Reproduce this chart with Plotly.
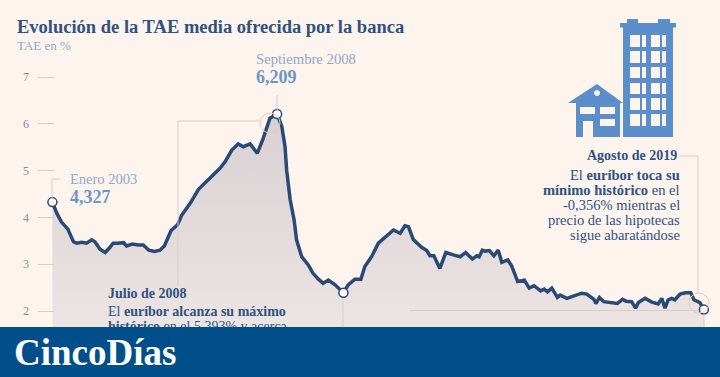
import plotly.graph_objects as go

# Data
years = [2003.01,2003.12,2003.24,2003.40,2003.54,2003.62,2003.75,2003.87,2004.00,2004.08,2004.21,2004.34,2004.44,2004.54,2004.65,2004.80,2004.88,
2005.02,2005.17,2005.30,2005.44,2005.58,2005.72,2005.83,2006.00,2006.16,2006.27,2006.48,2006.69,2006.85,2007.02,2007.23,2007.36,2007.53,2007.69,2007.82,2007.99,
2008.17,2008.32,2008.49,2008.67,2008.79,2008.87,2008.91,2009.00,2009.10,2009.16,2009.29,2009.46,2009.57,2009.71,2009.83,2009.96,2010.13,2010.34,2010.46,2010.63,2010.78,2010.88,
2011.05,2011.22,2011.47,2011.60,2011.77,2011.89,2011.98,2012.10,2012.31,2012.44,2012.52,2012.62,2012.77,2012.92,2013.11,2013.28,2013.42,2013.59,2013.70,2013.76,2013.84,2013.91,
2014.02,2014.13,2014.24,2014.33,2014.48,2014.58,2014.73,2014.90,2015.02,2015.14,2015.31,2015.40,2015.48,2015.59,2015.73,2015.80,2015.97,2016.13,2016.34,2016.47,2016.65,2016.70,2016.79,2016.90,
2017.06,2017.24,2017.37,2017.46,2017.60,2017.70,2017.77,2017.94,2018.11,2018.27,2018.36,2018.44,2018.52,2018.61,2018.69,2018.82,2018.95,2019.09,2019.17,2019.32,2019.42]
tae = [4.327,4.09,3.90,3.75,3.48,3.45,3.47,3.45,3.52,3.48,3.32,3.25,3.34,3.45,3.45,3.46,3.39,
3.43,3.41,3.41,3.30,3.27,3.30,3.39,3.72,3.84,4.05,4.30,4.60,4.73,4.88,5.05,5.19,5.44,5.57,5.51,5.57,
5.37,5.69,6.12,6.209,5.94,5.51,5.01,4.37,3.94,3.52,3.16,2.98,2.81,2.68,2.59,2.66,2.56,2.39,2.56,2.68,2.68,2.95,
3.16,3.45,3.65,3.73,3.66,3.82,3.80,3.53,3.36,3.29,3.18,3.18,2.91,3.25,3.20,3.16,3.25,3.11,3.18,3.16,3.30,3.28,
3.29,3.18,3.30,3.04,3.09,2.96,2.63,2.66,2.49,2.54,2.43,2.47,2.41,2.49,2.29,2.34,2.27,2.32,2.38,2.36,2.25,2.16,2.29,2.20,
2.18,2.16,2.25,2.21,2.20,2.06,2.18,2.27,2.19,2.15,2.27,2.06,2.24,2.27,2.24,2.36,2.39,2.39,2.24,2.18,2.03]
marked_years = [2003.01, 2008.67, 2010.34, 2019.42]
marked_tae = [4.327, 6.209, 2.39, 2.03]
y_ticks = [2, 3, 4, 5, 6, 7]

W, H = 720, 377
LEFT = 38
BG = "#fdf4ee"; NAVY = "#2a4a75"; TITLE = "#2f5282"; SOFT = "#8fa9c9"; BIG = "#6f96c8"
RULE = "#d8cdc6"; ICON = "#5a8fcb"; BANNER = "#004f8a"; SERIF = "Liberation Serif"

PX_YEAR = 39.7; PX_UNIT = 46.8
xd = lambda px: 2003 + (px - 52) / PX_YEAR
yd = lambda py: 2 + (311 - py) / PX_UNIT
xp = lambda px: (px - LEFT) / (W - LEFT)
yp = lambda py: 1 - py / H

fig = go.Figure()
fig.add_trace(go.Scatter(x=years, y=tae, mode="lines", line=dict(color=NAVY, width=3.5), fill="tozeroy",
    fillgradient=dict(type="vertical", colorscale=[[0, "#f3ece8"], [1, "#d8d0d3"]]), hoverinfo="skip"))
fig.add_trace(go.Scatter(x=marked_years, y=marked_tae, mode="markers",
    marker=dict(size=9, color="white", line=dict(color=NAVY, width=1.5)), hoverinfo="skip"))
# Text cut by the banner: a trace, so that the banner can cover it
fig.add_trace(go.Scatter(x=[xd(108)] * 2, y=[yd(312.5), yd(327.5)], mode="text",
    text=["El <b>euríbor alcanza su máximo</b>", "<b>histórico</b> en el 5,393% y acerca"],
    textposition="middle right", textfont=dict(family=SERIF, size=14, color=TITLE), hoverinfo="skip"))

shapes = []
def rect(x0, y0, x1, y1, color, layer="above"):
    shapes.append(dict(type="rect", xref="paper", yref="paper", x0=xp(x0), x1=xp(x1), y0=yp(y1), y1=yp(y0),
                       fillcolor=color, line_width=0, layer=layer))
def seg(x0, y0, x1, y1, color=RULE):
    shapes.append(dict(type="line", xref="paper", yref="paper", x0=xp(x0), x1=xp(x1), y0=yp(y0), y1=yp(y1),
                       line=dict(color=color, width=1), layer="above"))
def ring(cx, cy, r, color="#e3cdb9", fill="rgba(0,0,0,0)"):
    shapes.append(dict(type="circle", xref="paper", yref="paper", x0=xp(cx-r), x1=xp(cx+r), y0=yp(cy+r), y1=yp(cy-r),
                       line=dict(color=color, width=1), fillcolor=fill, layer="above"))

# Connectors
seg(52, 179, 60, 179); seg(52, 179, 52, 198)
seg(277, 95, 277, 110)
seg(178, 121, 178, 286); seg(178, 121, 261, 121); ring(270, 123, 10)
seg(343, 298, 343, 327)
seg(680, 156, 698, 156); seg(698, 156, 698, 294); ring(699, 303, 10)
seg(410, 310.5, 699, 310.5); seg(704, 314, 704, 327)

# Building icon
rect(623, 27, 673, 137, ICON); rect(620, 23, 676, 27.5, ICON)
rect(627, 19, 638, 23, ICON); rect(658, 19, 670, 23, ICON)
for r0, r1 in [(35,47),(51,63),(67,78),(83,94),(98,110),(114,126)]:
    for c0, c1 in [(630,640),(642,646),(651,660),(662,666)]:
        rect(c0, r0, c1, r1, BG)
shapes.append(dict(type="path", xref="paper", yref="paper", fillcolor=ICON, line_width=0, layer="above",
    path=f"M{xp(568)},{yp(103)} L{xp(597)},{yp(84)} L{xp(623)},{yp(103)} Z"))
rect(576, 103, 620, 137, ICON)
ring(597, 93, 2.5, color=BG, fill=BG)
for x0, y0, x1, y1 in [(580,107,595,114),(600,107,615,114),(600,119,615,126),(583,121,593,137)]:
    rect(x0, y0, x1, y1, BG)

# Banner
rect(LEFT, 327, 720, 377, BANNER)
rect(0, 327, LEFT, 377, BANNER)

def note(px, py, text, size, color=TITLE, anchor="left"):
    fig.add_annotation(xref="paper", yref="paper", x=xp(px), y=yp(py), text=text, showarrow=False,
        xanchor=anchor, yanchor="middle", font=dict(family=SERIF, size=size, color=color), align=anchor,
        borderpad=0, borderwidth=0)

note(17, 27, "<b>Evolución de la TAE media ofrecida por la banca</b>", 18.5)
note(17, 46, "TAE en %", 13, SOFT)
note(256, 59, "Septiembre 2008", 14.7, SOFT)
note(256, 77, "<b>6,209</b>", 18, BIG)
note(70, 179, "Enero 2003", 14.5, SOFT)
note(70, 197, "<b>4,327</b>", 18, BIG)
note(108, 293, "<b>Julio de 2008</b>", 14)
note(677, 156, "<b>Agosto de 2019</b>", 14, anchor="right")
note(680, 175, "El <b>euríbor toca su</b>", 14.5, anchor="right")
note(680, 190, "<b>mínimo histórico</b> en el", 14.5, anchor="right")
note(680, 205, "-0,356% mientras el", 14.5, anchor="right")
note(680, 220, "precio de las hipotecas", 14.5, anchor="right")
note(680, 235, "sigue abaratándose", 14.5, anchor="right")
note(14, 352, "<b>CincoDías</b>", 37, "white")

fig.update_layout(
    width=W, height=H, autosize=False, showlegend=False, shapes=shapes,
    margin=dict(l=LEFT, r=0, t=0, b=0, pad=0), paper_bgcolor=BG, plot_bgcolor=BG,
    xaxis=dict(range=[xd(LEFT), xd(720)], visible=False, fixedrange=True),
    yaxis=dict(range=[yd(377), yd(0)], tickvals=y_ticks, ticks="inside", ticklen=16, tickcolor=RULE, tickwidth=1,
               showgrid=False, zeroline=False, showline=False, ticklabelposition="outside", ticklabelstandoff=8,
               tickfont=dict(family=SERIF, size=12, color="#8c8c8c"), fixedrange=True),
)
fig.write_html("out.html", config=dict(displayModeBar=False),
               post_script="document.body.style.margin='0';document.documentElement.style.background='#fdf4ee';document.documentElement.style.overflow='hidden';")
